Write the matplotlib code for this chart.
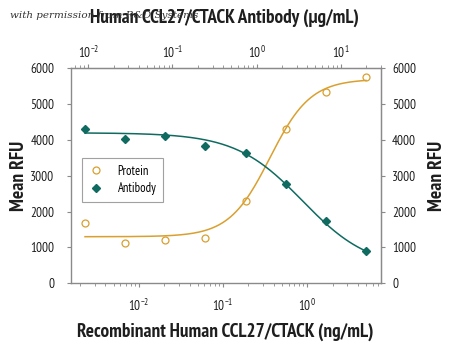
import numpy as np
import matplotlib.pyplot as plt

plt.rcParams['font.family'] = ['PT Sans Narrow', 'DejaVu Sans']

# 3-fold dilution series (ng/mL protein); antibody in ug/mL is 4x on the top scale
conc = [0.00229, 0.00686, 0.0206, 0.0617, 0.185, 0.556, 1.67, 5.0]
protein = [1690, 1135, 1220, 1275, 2305, 4310, 5325, 5755]
antibody = [4300, 4020, 4105, 3845, 3630, 2765, 1740, 900]

# four parameter logistic fit params: bottom, top, ec50, hill
protein_fit = (1300, 5700, 0.36, 1.8)
antibody_fit = (400, 4200, 0.88, -1.09)

def logistic(x, bottom, top, c, h):
    return bottom + (top - bottom) / (1 + (c / x) ** h)

orange = '#d9a030'
teal = '#0f6b60'
grey = '#8a8a8a'
dark = '#1e1e1e'

fig = plt.figure(figsize=(4.5, 3.48), dpi=100)
ax = fig.add_axes([71/450, 64.7/348, 310/450, 215/348])

xs = np.logspace(np.log10(conc[0]), np.log10(conc[-1]), 200)
ax.plot(xs, logistic(xs, *protein_fit), color=orange, lw=1.1)
ax.plot(xs, logistic(xs, *antibody_fit), color=teal, lw=1.1)
ax.plot(conc, protein, 'o', mfc='none', mec=orange, ms=5, mew=0.9, label='Protein')
ax.plot(conc, antibody, 'D', color=teal, ms=4, label='Antibody')

ax.set_xscale('log')
ax.set_xlim(0.00156, 7.53)
ax.set_ylim(0, 6000)
ax.set_yticks(range(0, 7000, 1000))

for s in ax.spines.values():
    s.set_color(grey)
    s.set_linewidth(1)
ax.tick_params(which='both', colors=grey, labelcolor=dark, labelsize=9.5, direction='out')
ax.tick_params(which='major', length=3, pad=8)
ax.tick_params(which='minor', length=2)
ax.tick_params(axis='y', length=3, pad=9)

# right-hand RFU scale
ay2 = ax.secondary_yaxis('right')
ay2.spines['right'].set_color(grey)
ay2.set_yticks(range(0, 7000, 1000))
ay2.tick_params(colors=grey, labelcolor=dark, labelsize=9.5, direction='out', length=3, pad=5)

# antibody concentration scale on top
ax2 = ax.secondary_xaxis('top', functions=(lambda v: v * 4, lambda v: v / 4))
ax2.spines['top'].set_color(grey)
ax2.tick_params(which='both', colors=grey, labelcolor=dark, labelsize=9.5, direction='out')
ax2.tick_params(which='major', length=3, pad=2)
ax2.tick_params(which='minor', length=2)

fig.text(224/450, 1 - 18/348, 'Human CCL27/CTACK Antibody (\u03bcg/mL)', ha='center', va='center',
         fontsize=13.8, fontweight='bold', color=dark)
fig.text(225/450, 1 - 332/348, 'Recombinant Human CCL27/CTACK (ng/mL)', ha='center', va='center',
         fontsize=13.8, fontweight='bold', color=dark)
fig.text(19/450, 1 - 176/348, 'Mean RFU', rotation=90, ha='center', va='center',
         fontsize=14, fontweight='bold', color=dark)
fig.text(437/450, 1 - 176/348, 'Mean RFU', rotation=90, ha='center', va='center',
         fontsize=14, fontweight='bold', color=dark)

leg = ax.legend(loc='upper left', bbox_to_anchor=(0.035, 0.583), frameon=True, fancybox=False,
                fontsize=9, handlelength=1.2, borderpad=0.55, labelspacing=0.35, handletextpad=1.1,
                borderaxespad=0)
leg.get_frame().set_edgecolor(grey)
leg.get_frame().set_linewidth(0.8)

fig.text(10/450, 1 - 15/348, 'with permission from R&D Systems', fontsize=7.5, style='italic',
         family='DejaVu Serif', color='#333333', va='center')

fig.savefig('out.png', dpi=100)
